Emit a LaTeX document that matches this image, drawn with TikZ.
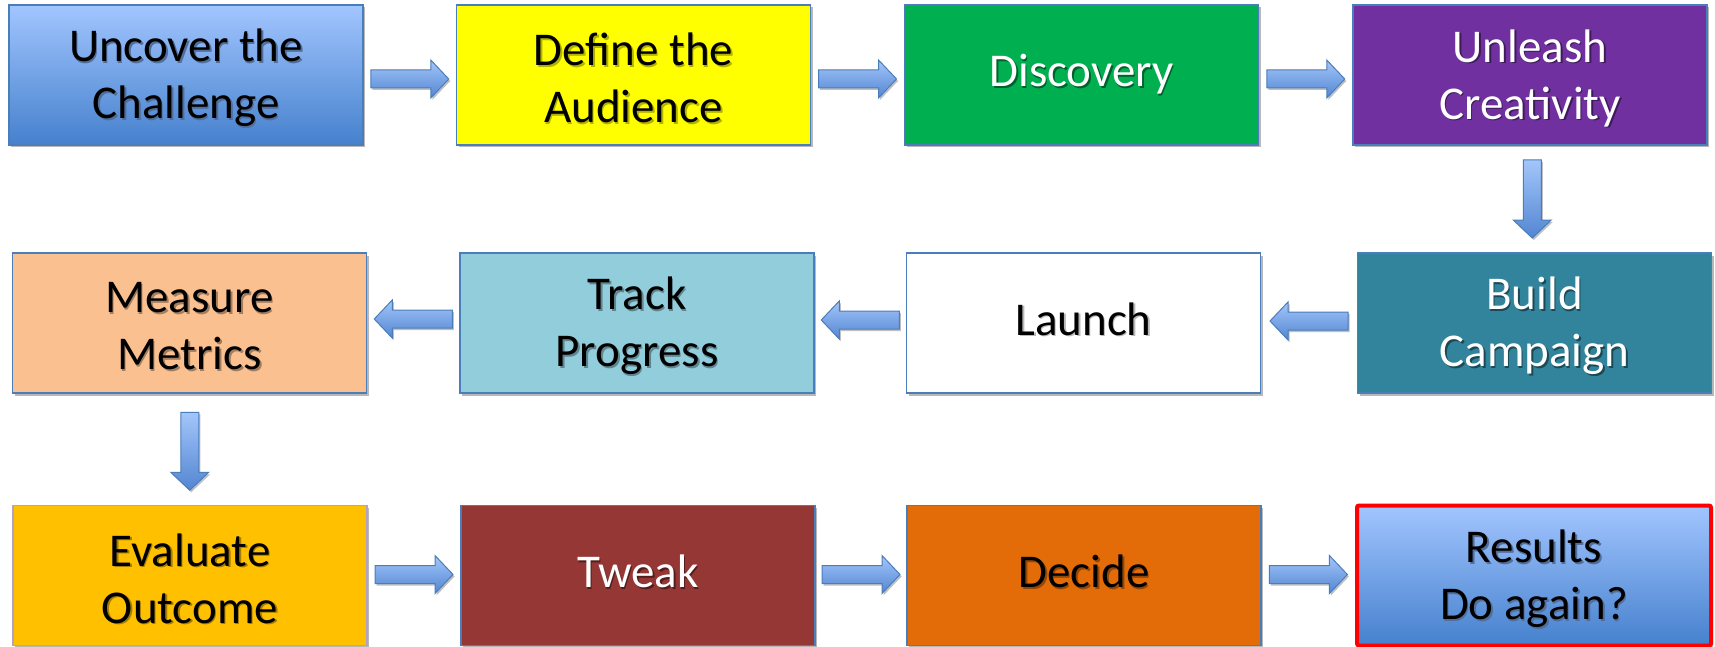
\documentclass[tikz,border=0pt]{standalone}
\usepackage{fontspec}
\setmainfont{Carlito}
\usetikzlibrary{shadows,calc}

\definecolor{boxline}{HTML}{4A7EBB}
\definecolor{gradtop}{HTML}{A2C5FF}
\definecolor{gradmid}{HTML}{7DA9EF}
\definecolor{gradbot}{HTML}{4581CD}
\definecolor{arrowtop}{HTML}{A3C6FA}
\definecolor{arrowbot}{HTML}{5386D2}
\definecolor{cyellow}{HTML}{FFFF00}
\definecolor{cgreen}{HTML}{00B050}
\definecolor{cpurple}{HTML}{7030A0}
\definecolor{cteal}{HTML}{31849B}
\definecolor{cltblue}{HTML}{92CDDC}
\definecolor{cpeach}{HTML}{FAC090}
\definecolor{camber}{HTML}{FFC000}
\definecolor{cmaroon}{HTML}{953735}
\definecolor{corange}{HTML}{E36C09}
\definecolor{lilacline}{HTML}{B3A2C7}

% one stage of the process: box, soft text shadow, text
% #1 box style, #2 name, #3 x, #4 y, #5 text colour, #6 shadow colour, #7 text
\newcommand\stage[7]{%
  \node[stagebox,#1] (#2) at (#3,#4) {};
  \node[steptext,text=#6] (#2-shadow) at ([xshift=1.6pt,yshift=-1.8pt]#2.center) {#7};
  \node[steptext,text=#5] (#2-text) at (#2.center) {#7};
}
% single-line variant, centred on the capital letters
\newcommand\stageone[7]{%
  \node[stagebox,#1] (#2) at (#3,#4) {};
  \node[steptext,onetext,text=#6] (#2-shadow) at ([xshift=1.6pt,yshift=-1.8pt]#2.center) {#7};
  \node[steptext,onetext,text=#5] (#2-text) at (#2.center) {#7};
}
% block arrow between two stages: #1 name, #2 centre, #3 direction
\newcommand\blockarrow[3]{%
  \coordinate (#1) at #2;
  \begin{scope}[shift={(#1)}, rotate=#3]
    \path[flowarrow] (-39,-9) -- (21,-9) -- (21,-19) -- (39,0)
      -- (21,19) -- (21,9) -- (-39,9) -- cycle;
  \end{scope}}

\begin{document}
\begin{tikzpicture}[x=1pt,y=-1pt,
  stagebox/.style={draw=boxline, line width=1.5pt, minimum width=354pt,
    minimum height=140pt, inner sep=0pt,
    drop shadow={shadow xshift=2pt, shadow yshift=-2.5pt, opacity=0.28, fill=black}},
  gradbox/.style={top color=gradtop, middle color=gradmid, bottom color=gradbot},
  steptext/.style={align=center, inner sep=0pt, yshift=-3pt,
    font=\fontsize{47}{57}\selectfont},
  onetext/.style={yshift=6pt, text height=30pt, text depth=0pt},
  flowarrow/.style={draw=boxline, line width=1pt, line join=miter,
    top color=arrowtop, bottom color=arrowbot,
    drop shadow={shadow xshift=1.5pt, shadow yshift=-2pt, opacity=0.25, fill=black}},
]
\useasboundingbox[fill=white] (0,0) rectangle (1715,647);

% first row, left to right
\stage{gradbox}{uncover}{186}{75}{black}{black!35!gradmid}{Uncover the\\Challenge}
\stage{fill=cyellow}{audience}{633.5}{75}{black}{black!30!cyellow}{Define the\\Audience}
\stageone{fill=cgreen}{discovery}{1081.5}{75}{white}{black!45!cgreen}{Discovery}
\stage{fill=cpurple}{creativity}{1530}{75}{white}{black!45!cpurple}{Unleash\\Creativity}

% second row, right to left
\stage{fill=cteal}{build}{1534.5}{323}{white}{black!45!cteal}{Build\\Campaign}
\stageone{fill=white}{launch}{1083.5}{323}{black}{black!28}{Launch}
\stage{fill=cltblue}{track}{637}{323}{black}{black!35!cltblue}{Track\\Progress}
\stage{fill=cpeach}{measure}{189.5}{323}{black}{black!35!cpeach}{Measure\\Metrics}

% third row, left to right
\stage{fill=camber,draw=lilacline}{evaluate}{190}{575.5}{black}{black!35!camber}{Evaluate\\Outcome}
\stageone{fill=cmaroon}{tweak}{638}{575.5}{white}{black!45!cmaroon}{Tweak}
\stageone{fill=corange}{decide}{1084}{575.5}{black}{black!35!corange}{Decide}
\stage{gradbox,draw=red,line width=4pt,rounded corners=2pt}{results}{1534}{575.5}{black}{black!35!gradmid}{Results\\Do again?}

% connectors of the first row
\blockarrow{a1}{($(uncover.east)!0.5!(audience.west)+(0,4)$)}{0}
\blockarrow{a2}{($(audience.east)!0.5!(discovery.west)+(0,4)$)}{0}
\blockarrow{a3}{($(discovery.east)!0.5!(creativity.west)+(0,4)$)}{0}
\blockarrow{d1}{($(creativity.south)!0.5!(build.north)$)}{-90}

% connectors of the second row
\blockarrow{a4}{($(build.west)!0.5!(launch.east)+(0,-2)$)}{180}
\blockarrow{a5}{($(launch.west)!0.5!(track.east)+(0,-3)$)}{180}
\blockarrow{a6}{($(track.west)!0.5!(measure.east)+(0,-4)$)}{180}
\blockarrow{d2}{($(measure.south)!0.5!(evaluate.north)+(0,2)$)}{-90}

% connectors of the third row
\blockarrow{a7}{($(evaluate.east)!0.5!(tweak.west)+(0,-1)$)}{0}
\blockarrow{a8}{($(tweak.east)!0.5!(decide.west)+(0,-1)$)}{0}
\blockarrow{a9}{($(decide.east)!0.5!(results.west)+(0,-1)$)}{0}
\end{tikzpicture}
\end{document}
